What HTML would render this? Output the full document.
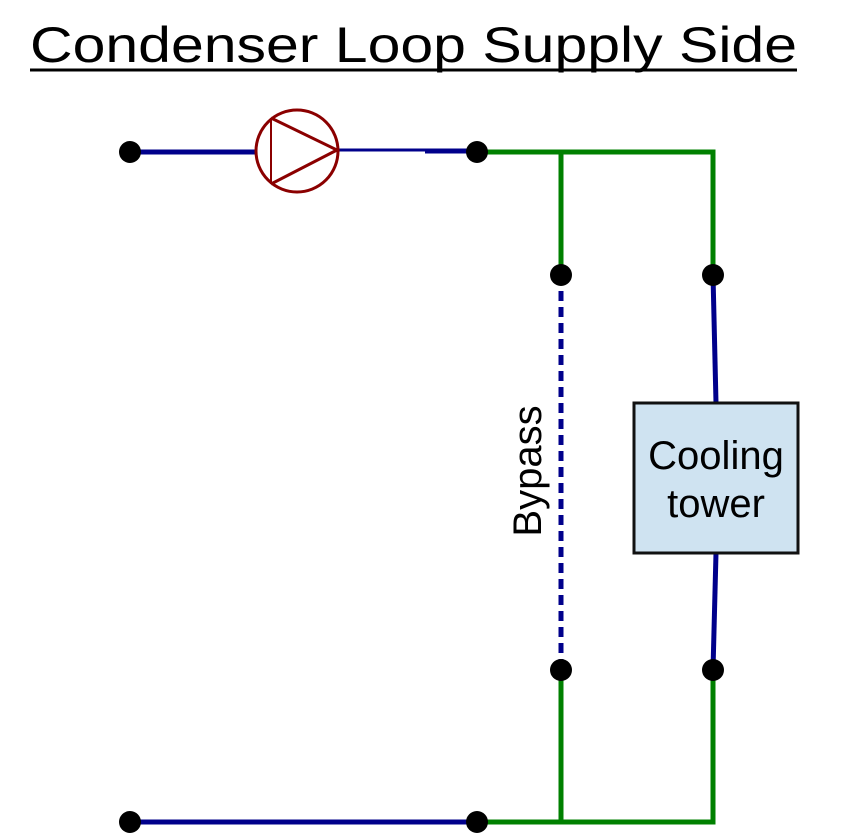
<!DOCTYPE html>
<html><head><style>
html,body{margin:0;padding:0;background:#fff;width:844px;height:839px;overflow:hidden}
svg{display:block}
</style></head><body>
<svg width="844" height="839" viewBox="0 0 844 839">
<text x="30" y="62" font-family="Liberation Sans, sans-serif" font-size="50" fill="#000" textLength="767" lengthAdjust="spacingAndGlyphs">Condenser Loop Supply Side</text>
<line x1="30" y1="70" x2="797" y2="70" stroke="#000" stroke-width="3"/>
<line x1="130" y1="152" x2="256" y2="152" stroke="#00008b" stroke-width="5"/>
<line x1="338" y1="150" x2="425" y2="150" stroke="#00008b" stroke-width="3"/>
<line x1="425" y1="151" x2="477" y2="151" stroke="#00008b" stroke-width="5"/>
<circle cx="297" cy="151" r="41" fill="none" stroke="#8b0000" stroke-width="3"/>
<line x1="271" y1="118" x2="271" y2="184" stroke="#8b0000" stroke-width="2"/>
<polyline points="271,118 337,150 271,184" fill="none" stroke="#8b0000" stroke-width="3"/>
<polyline points="477,152 713,152 713,275" fill="none" stroke="#008000" stroke-width="5"/>
<line x1="561" y1="152" x2="561" y2="275" stroke="#008000" stroke-width="5"/>
<line x1="561" y1="275" x2="561" y2="670" stroke="#00008b" stroke-width="5" stroke-dasharray="10,6"/>
<line x1="713" y1="275" x2="716" y2="403" stroke="#00008b" stroke-width="5"/>
<line x1="716" y1="553" x2="713" y2="670" stroke="#00008b" stroke-width="5"/>
<rect x="634" y="403" width="164" height="150" fill="#cfe3f1" stroke="#111" stroke-width="3"/>
<text x="716" y="469" text-anchor="middle" font-family="Liberation Sans, sans-serif" font-size="40" fill="#000">Cooling</text>
<text x="716" y="517" text-anchor="middle" font-family="Liberation Sans, sans-serif" font-size="40" fill="#000">tower</text>
<text transform="translate(541,471) rotate(-90)" text-anchor="middle" font-family="Liberation Sans, sans-serif" font-size="40" fill="#000">Bypass</text>
<polyline points="561,670 561,822" fill="none" stroke="#008000" stroke-width="5"/>
<polyline points="713,670 713,822 477,822" fill="none" stroke="#008000" stroke-width="5"/>
<line x1="130" y1="822" x2="477" y2="822" stroke="#00008b" stroke-width="5"/>
<g fill="#000">
<circle cx="130" cy="152" r="11"/>
<circle cx="477" cy="152" r="11"/>
<circle cx="561" cy="275" r="11"/>
<circle cx="713" cy="275" r="11"/>
<circle cx="561" cy="670" r="11"/>
<circle cx="713" cy="670" r="11"/>
<circle cx="130" cy="822" r="11"/>
<circle cx="477" cy="822" r="11"/>
</g>
</svg>
</body></html>
